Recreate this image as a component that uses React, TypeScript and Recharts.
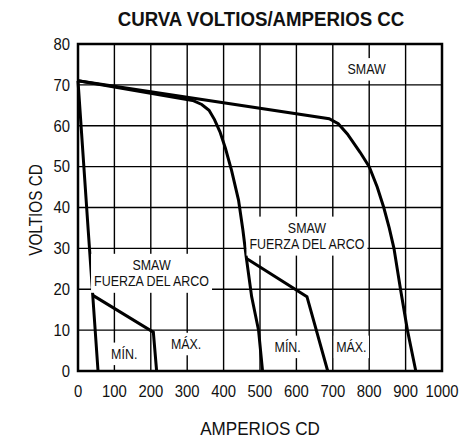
import { LineChart, Line, XAxis, YAxis, CartesianGrid, ReferenceDot, ReferenceArea } from "recharts";

const X_TICKS = [0, 100, 200, 300, 400, 500, 600, 700, 800, 900, 1000];
const Y_TICKS = [0, 10, 20, 30, 40, 50, 60, 70, 80];

// SMAW minimum (steep line on the left)
const smawMinAmps = [0, 28, 55];
const smawMinVolts = [71, 34.5, 0];

// arc force, minimum setting
const forceMinAmps = [41, 207, 216];
const forceMinVolts = [18.5, 9.5, 0];

// SMAW middle curve
const smawMidAmps = [0, 315, 340, 360, 375, 390, 405, 422, 441, 453, 462, 477, 496, 507];
const smawMidVolts = [71, 66.2, 65.2, 63.8, 61.5, 58.5, 54.5, 49, 41.8, 34.5, 28, 18.2, 10, 0];

// arc force, maximum setting
const forceMaxAmps = [463, 629, 686];
const forceMaxVolts = [27.5, 18.2, 0];

// SMAW maximum curve
const smawMaxAmps = [0, 690, 715, 740, 775, 800, 822, 840, 855, 868, 886, 905, 928];
const smawMaxVolts = [71, 61.7, 60.5, 58, 53.5, 50, 45, 40, 35, 30, 20, 10, 0];

const tags = [
  { a: 793, v: 73.8, lines: ["SMAW"] },
  { a: 629, v: 33, lines: ["SMAW", "FUERZA DEL ARCO"] },
  { a: 202, v: 23.9, lines: ["SMAW", "FUERZA DEL ARCO"] },
  { a: 127, v: 4.2, lines: ["MÍN."] },
  { a: 297, v: 6.6, lines: ["MÁX."] },
  { a: 576, v: 5.9, lines: ["MÍN."] },
  { a: 751, v: 5.9, lines: ["MÁX."] },
];

const FONT = '"Liberation Sans", Arial, sans-serif';

const toPoints = (amps: number[], volts: number[]) => amps.map((a, i) => ({ a, v: volts[i] }));

const series = [
  toPoints(smawMinAmps, smawMinVolts),
  toPoints(forceMinAmps, forceMinVolts),
  toPoints(smawMidAmps, smawMidVolts),
  toPoints(forceMaxAmps, forceMaxVolts),
  toPoints(smawMaxAmps, smawMaxVolts),
];

// narrow text: Liberation Sans squeezed horizontally
const Narrow = ({ x, y, size, sx, anchor = "middle", bold, rotate, children }: any) => (
  <text
    transform={`translate(${x},${y})${rotate ? ` rotate(${rotate})` : ""} scale(${sx},1)`}
    textAnchor={anchor}
    dominantBaseline="central"
    fontFamily={FONT}
    fontSize={size}
    fontWeight={bold ? "bold" : "normal"}
    fill="#111"
  >
    {children}
  </text>
);

const TagShape = ({ cx, cy, lines }: { cx?: number; cy?: number; lines: string[] }) => {
  if (cx == null || cy == null) return null;
  const lh = 16.5;
  const w = Math.max(...lines.map((l) => l.length)) * 7.8 + 4;
  const h = lines.length * lh + 6;
  const top = cy - h / 2;
  return (
    <g>
      <rect x={cx - w / 2} y={top} width={w} height={h} fill="#fff" />
      {lines.map((l, i) => (
        <Narrow key={i} x={cx} y={top + 3 + lh * (i + 0.5)} size={15} sx={0.83}>
          {l}
        </Narrow>
      ))}
    </g>
  );
};

const XTick = ({ x, y, payload }: any) => (
  <Narrow x={x} y={391} size={16.5} sx={0.9}>
    {payload.value}
  </Narrow>
);

const YTick = ({ y, payload }: any) => (
  <Narrow x={70} y={y} size={16.5} sx={0.9} anchor="end">
    {payload.value}
  </Narrow>
);

export default function App() {
  return (
    <div style={{ position: "absolute", left: 0, top: 0, width: 472, height: 440, background: "#fff" }}>
      <LineChart width={472} height={440} margin={{ top: 44, right: 30, bottom: 39, left: 28 }}>
        <Narrow x={261} y={19} size={21} sx={0.89} bold>
          CURVA VOLTIOS/AMPERIOS CC
        </Narrow>
        <Narrow x={260} y={429} size={18} sx={0.95}>
          AMPERIOS CD
        </Narrow>
        <Narrow x={36} y={210} size={18} sx={0.85} rotate={-90}>
          VOLTIOS CD
        </Narrow>
        <CartesianGrid stroke="#000" strokeWidth={1.4} strokeOpacity={1} />
        <XAxis
          dataKey="a"
          type="number"
          domain={[0, 1000]}
          ticks={X_TICKS}
          allowDuplicatedCategory={false}
          height={30}
          tickLine={false}
          axisLine={false}
          tick={<XTick />}
          interval={0}
        />
        <YAxis
          dataKey="v"
          type="number"
          domain={[0, 80]}
          ticks={Y_TICKS}
          width={50}
          tickLine={false}
          axisLine={false}
          tick={<YTick />}
          interval={0}
        />
        <ReferenceArea x1={0} x2={1000} y1={0} y2={80} fill="none" stroke="#000" strokeWidth={2.5} fillOpacity={0} />
        {tags.map((t, i) => (
          <ReferenceDot key={i} x={t.a} y={t.v} r={0} shape={(p: any) => <TagShape cx={p.cx} cy={p.cy} lines={t.lines} />} />
        ))}
        {series.map((d, i) => (
          <Line
            key={i}
            data={d}
            dataKey="v"
            type="linear"
            stroke="#000"
            strokeWidth={3}
            dot={false}
            activeDot={false}
            isAnimationActive={false}
          />
        ))}
      </LineChart>
    </div>
  );
}
